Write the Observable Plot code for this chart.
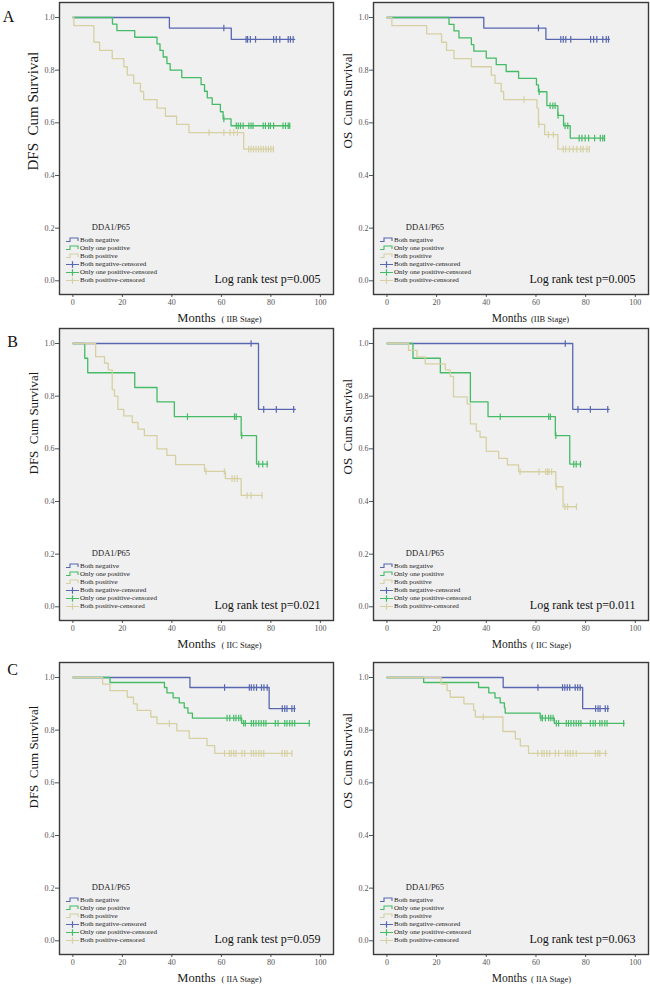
<!DOCTYPE html>
<html><head><meta charset="utf-8">
<script src="https://cdn.jsdelivr.net/npm/d3@7"></script>
<script src="https://cdn.jsdelivr.net/npm/@observablehq/plot@0.6"></script>
<style>
body{margin:0;background:#fff;}
#chart{position:relative;width:650px;height:988px;overflow:hidden;background:#fff;}
#chart svg{position:absolute;overflow:visible;}
</style></head><body><div id="chart"></div>
<script>
// ---------- data: step points [months, survival] and censored times ----------
const groups = ["Both negative", "Only one positive", "Both positive"];
const legendLabels = ["Both negative","Only one positive","Both positive","Both negative-censored","Only one positive-censored","Both positive-censored"];
const pValues = ["0.005","0.005","0.021","0.011","0.059","0.063"];
const stages = ["IIB","IIB","IIC","IIC","IIA","IIA"];
const measures = ["DFS","OS","DFS","OS","DFS","OS"];
const xTicks = [0,20,40,60,80,100];
const yTicks = [0,0.2,0.4,0.6,0.8,1.0];

// A: IIB DFS
const A_DFS_neg = [[0,1],[39,0.96],[64,0.917],[89.6,0.917]];
const A_DFS_negC = [61,70,70.6,71.7,73.8,81.1,82.2,83.6,87,87.9,89];
const A_DFS_one = [[0,1],[16,0.975],[17.8,0.95],[25,0.925],[34,0.90],[35.2,0.875],[36.5,0.85],[38,0.825],[39.3,0.80],[44,0.772],[51.8,0.745],[53.2,0.72],[54.3,0.695],[56.3,0.67],[59.6,0.642],[60.7,0.615],[63.9,0.589],[87.7,0.589]];
const A_DFS_oneC = [61,66,66.8,67.7,68.8,71.1,72,72.8,76.9,77.8,79.1,79.8,81.1,84.9,85.9,87,87.6];
const A_DFS_both = [[0,1],[0.4,0.969],[8.5,0.906],[10.8,0.875],[15.9,0.844],[20.6,0.813],[22,0.781],[24.6,0.75],[27.3,0.719],[28.6,0.688],[34,0.656],[37.4,0.625],[41.9,0.594],[46.9,0.563],[69,0.50],[81,0.50]];
const A_DFS_bothC = [55,61,63.5,65,66.5,71,72,73,74,75,76,77,78,79,80,81];
// A: IIB OS
const A_OS_neg = [[0,1],[39,0.96],[64,0.917],[89.6,0.917]];
const A_OS_negC = [61,70,71,72,74,82,83.2,84.5,86.9,88.3,89.2];
const A_OS_one = [[0,1],[25,0.974],[27,0.949],[29,0.923],[34,0.897],[35,0.872],[40,0.846],[44,0.821],[48,0.795],[53,0.769],[60.2,0.744],[61,0.718],[64.4,0.665],[68.8,0.628],[71.1,0.589],[73.8,0.542],[87.6,0.542]];
const A_OS_oneC = [61.3,65.7,66.8,67.7,68.9,71.7,72.8,77.4,78.5,79.8,81.2,83.6,85.9,86.9,87.6];
const A_OS_both = [[0,1],[2,0.969],[16,0.938],[22,0.906],[24,0.875],[27,0.844],[34,0.813],[42,0.781],[43.5,0.75],[46,0.719],[47,0.688],[60.4,0.656],[61,0.594],[63.5,0.555],[68.8,0.50],[81.5,0.50]];
const A_OS_bothC = [55.2,61.2,65,67,71,72,73.5,75,76.5,78,79,80.5,81.5];
// B: IIC DFS
const B_DFS_neg = [[0,1],[75,0.75],[89.9,0.75]];
const B_DFS_negC = [72,77.1,82.2,89.2];
const B_DFS_one = [[0,1],[4.8,0.944],[6,0.889],[25,0.833],[34,0.778],[41,0.722],[68,0.65],[74.2,0.542],[78.7,0.542]];
const B_DFS_oneC = [46.3,65.3,66,68.2,75.1,76.7,78.5];
const B_DFS_both = [[0,1],[9.2,0.95],[12.8,0.925],[14.3,0.90],[15.9,0.825],[16.8,0.80],[18.2,0.75],[20.6,0.725],[24,0.70],[26.3,0.675],[28.9,0.65],[34,0.60],[38,0.575],[41.5,0.54],[53.2,0.514],[61.6,0.487],[68,0.423],[76.4,0.423]];
const B_DFS_bothC = [53.8,61.2,64.3,65.3,66.4,70.4,72,76.4];
// B: IIC OS
const B_OS_neg = [[0,1],[74.8,0.75],[89.5,0.75]];
const B_OS_negC = [71.8,76.9,81.9,88.9];
const B_OS_one = [[0,1],[10.5,0.944],[21.5,0.889],[33.6,0.778],[40.7,0.722],[67.8,0.65],[73.6,0.542],[78.1,0.542]];
const B_OS_oneC = [45.6,65.1,65.8,68,75.2,76.2,77.9];
const B_OS_both = [[0,1],[8.7,0.974],[12.1,0.949],[15.4,0.923],[23.5,0.90],[25.5,0.875],[26.8,0.797],[32.3,0.771],[33.6,0.695],[36,0.667],[37.5,0.644],[40,0.59],[45,0.564],[48.5,0.539],[53,0.513],[68,0.456],[70.9,0.38],[76.3,0.38]];
const B_OS_bothC = [53.6,61.2,63.9,64.6,65.2,66.3,68.2,71.6,72.7,76.3];
// C: IIA DFS
const C_DFS_neg = [[0,1],[47.3,0.962],[79.3,0.882],[89.8,0.882]];
const C_DFS_negC = [61.3,71.3,72.1,73.1,74.2,76.2,77.2,78.5,84.6,85.6,86.5,88.5,89.5];
const C_DFS_one = [[0,1],[15,0.981],[37,0.962],[38,0.942],[40.5,0.923],[43,0.904],[45,0.885],[46.5,0.865],[48.3,0.846],[68.2,0.826],[95.7,0.826]];
const C_DFS_oneC = [62.3,63.4,65,65.9,67,67.9,69,69.7,72.1,73,74,75.1,76.1,77.1,78,81.8,82.9,85.6,86.5,87.6,88.6,89.6,95.5];
const C_DFS_both = [[0,1],[12,0.975],[15,0.95],[22,0.925],[24.5,0.90],[26,0.875],[31.5,0.85],[34,0.825],[42,0.797],[47,0.769],[54.2,0.741],[57.3,0.712],[88.5,0.712]];
const C_DFS_bothC = [39,61.3,63.2,64,65,65.9,68.3,69.4,72.1,73,74,75.1,76.1,77.1,84.5,85.6,86.5,88.5];
// C: IIA OS
const C_OS_neg = [[0,1],[46.8,0.962],[78.8,0.882],[89.3,0.882]];
const C_OS_negC = [60.8,70.7,71.6,72.6,73.6,75.8,76.8,77.8,84,85,85.8,87.9,88.9];
const C_OS_one = [[0,1],[14.8,0.981],[36.9,0.962],[41,0.942],[43.5,0.923],[45.6,0.904],[47.3,0.885],[47.6,0.865],[61.7,0.846],[67.4,0.826],[95.5,0.826]];
const C_OS_oneC = [62,62.6,63.8,65.1,66,66.9,68.2,69.1,72.2,73.1,74.1,75.2,76.2,77.2,78.1,81.9,83,83.9,85.7,86.6,87.7,88.6,95.3];
const C_OS_both = [[0,1],[21.8,0.975],[24.2,0.95],[25.5,0.925],[31,0.90],[34.9,0.875],[35.6,0.85],[46.7,0.795],[51.7,0.767],[53.7,0.74],[57,0.712],[88.6,0.712]];
const C_OS_bothC = [38.8,60.7,62.4,63.3,64.4,65.5,67.8,69.1,71.8,72.8,73.8,74.9,76.2,83.9,84.9,85.7,88];

// ---------- panel table built from the arrays ----------
const curves = [
  [[A_DFS_neg,A_DFS_negC],[A_DFS_one,A_DFS_oneC],[A_DFS_both,A_DFS_bothC]],
  [[A_OS_neg,A_OS_negC],[A_OS_one,A_OS_oneC],[A_OS_both,A_OS_bothC]],
  [[B_DFS_neg,B_DFS_negC],[B_DFS_one,B_DFS_oneC],[B_DFS_both,B_DFS_bothC]],
  [[B_OS_neg,B_OS_negC],[B_OS_one,B_OS_oneC],[B_OS_both,B_OS_bothC]],
  [[C_DFS_neg,C_DFS_negC],[C_DFS_one,C_DFS_oneC],[C_DFS_both,C_DFS_bothC]],
  [[C_OS_neg,C_OS_negC],[C_OS_one,C_OS_oneC],[C_OS_both,C_OS_bothC]]
];
const letters = ["A", null, "B", null, "C", null];

const colors = ["#5767b0", "#45bb66", "#d6d0a2"];
const serif = "'Liberation Serif', 'Times New Roman', serif";
const tickSym = {draw(ctx) { ctx.moveTo(0, -3.3); ctx.lineTo(0, 3.3); }};

function stepAt(steps, t) {
  let s = steps[0][1];
  for (const [tt, ss] of steps) if (tt <= t) s = ss;
  return s;
}

const rowTop = [0, 326, 660];
const chart = document.getElementById("chart");

curves.forEach((panel, i) => {
  const row = Math.floor(i / 2), col = i % 2;
  const isLeft = col === 0;
  const W = isLeft ? 335 : 336;
  const H = row === 2 ? 328 : 330;
  const mL = 59, mR = 2, mT = 2, mB = H - 2 - 292;
  const marks = [Plot.frame({fill: "#f0f0f0"})];
  panel.forEach(([steps, cens], g) => {
    const lineData = steps.map(([t, s]) => ({t, s}));
    marks.push(Plot.line(lineData, {x: "t", y: "s", curve: "step-after", stroke: colors[g], strokeWidth: 1.3}));
  });
  panel.forEach(([steps, cens], g) => {
    const censData = cens.map(t => ({t, s: stepAt(steps, t)}));
    marks.push(Plot.dot(censData, {x: "t", y: "s", symbol: tickSym, stroke: colors[g], fill: "none", strokeWidth: 1.2}));
  });
  marks.push(Plot.frame({stroke: "#3a3a3a", strokeWidth: 1.4}));
  // axis titles
  const yTitle = measures[i] + "\u00a0 Cum Survival";
  const bigY = i === 0;
  marks.push(Plot.text([yTitle], {frameAnchor: "left", text: d => d, rotate: -90, dx: -26, dy: bigY ? 22 : 0,
    fontSize: bigY ? 15 : 13, fill: "#1a1a1a", fontFamily: serif}));
  marks.push(Plot.text(["Months"], {frameAnchor: "bottom", text: d => d, textAnchor: "end",
    dx: isLeft ? 19 : 16, dy: 27, fontSize: isLeft ? 12.5 : 11.5, fill: "#1a1a1a", fontFamily: serif}));
  marks.push(Plot.text([(isLeft || i > 1 ? "( " : "(") + stages[i] + " Stage)"], {frameAnchor: "bottom", text: d => d, textAnchor: "start",
    dx: isLeft ? 25 : 20, dy: 27, fontSize: 8.5, fill: "#1a1a1a", fontFamily: serif}));
  marks.push(Plot.text(["Log rank test p=" + pValues[i]], {frameAnchor: "bottom-right", text: d => d, textAnchor: "end",
    dx: -13, dy: -12, fontSize: 12, fill: "#111", fontFamily: serif}));
  if (letters[i]) {
    marks.push(Plot.text([letters[i]], {frameAnchor: "top-left", text: d => d, textAnchor: "middle",
      dx: row === 0 ? -51 : -47, dy: row === 0 ? 8 : (row === 1 ? 7 : 1), fontSize: 16, fill: "#111", fontFamily: serif}));
  }
  const svg = Plot.plot({
    width: W, height: H,
    marginLeft: mL, marginRight: mR, marginTop: mT, marginBottom: mB,
    style: {background: "transparent", fontFamily: serif, fontSize: "8px", color: "#555", overflow: "visible"},
    x: {domain: [-5.4, 105.3], ticks: xTicks, tickSize: 3, tickPadding: 2, label: null},
    y: {domain: [-0.052, 1.057], ticks: yTicks, tickFormat: d3.format(".1f"), tickSize: 4, tickPadding: 1, label: null},
    marks
  });
  svg.style.left = (isLeft ? 0 : 314) + "px";
  svg.style.top = rowTop[row] + "px";
  chart.appendChild(svg);

  // legend inside the frame, lower left
  const fl = mL, fb = mT + 292;
  const s = d3.select(svg);
  const lg = s.append("g").attr("font-family", serif).attr("fill", "#222").attr("text-anchor", "start");
  lg.append("text").attr("x", fl + 52).attr("y", fb - 66).attr("text-anchor", "middle")
    .attr("dominant-baseline", "middle").attr("font-size", 8.5).text("DDA1/P65");
  const offs = [54, 46, 38, 29.5, 21.5, 13.5];
  legendLabels.forEach((lab, k) => {
    const y = fb - offs[k];
    const c = colors[k % 3];
    const x0 = fl + 7;
    if (k < 3) {
      lg.append("path").attr("d", `M${x0},${y + 1.5}H${x0 + 4}V${y - 2}H${x0 + 12}V${y + 1}`)
        .attr("fill", "none").attr("stroke", c).attr("stroke-width", 1.1);
    } else {
      lg.append("path").attr("d", `M${x0},${y}H${x0 + 13}M${x0 + 6.5},${y - 3.3}V${y + 3.3}`)
        .attr("fill", "none").attr("stroke", c).attr("stroke-width", 1.2);
    }
    lg.append("text").attr("x", fl + 21).attr("y", y).attr("text-anchor", "start")
      .attr("dominant-baseline", "middle").attr("font-size", 7).text(lab);
  });
});
</script></body></html>
